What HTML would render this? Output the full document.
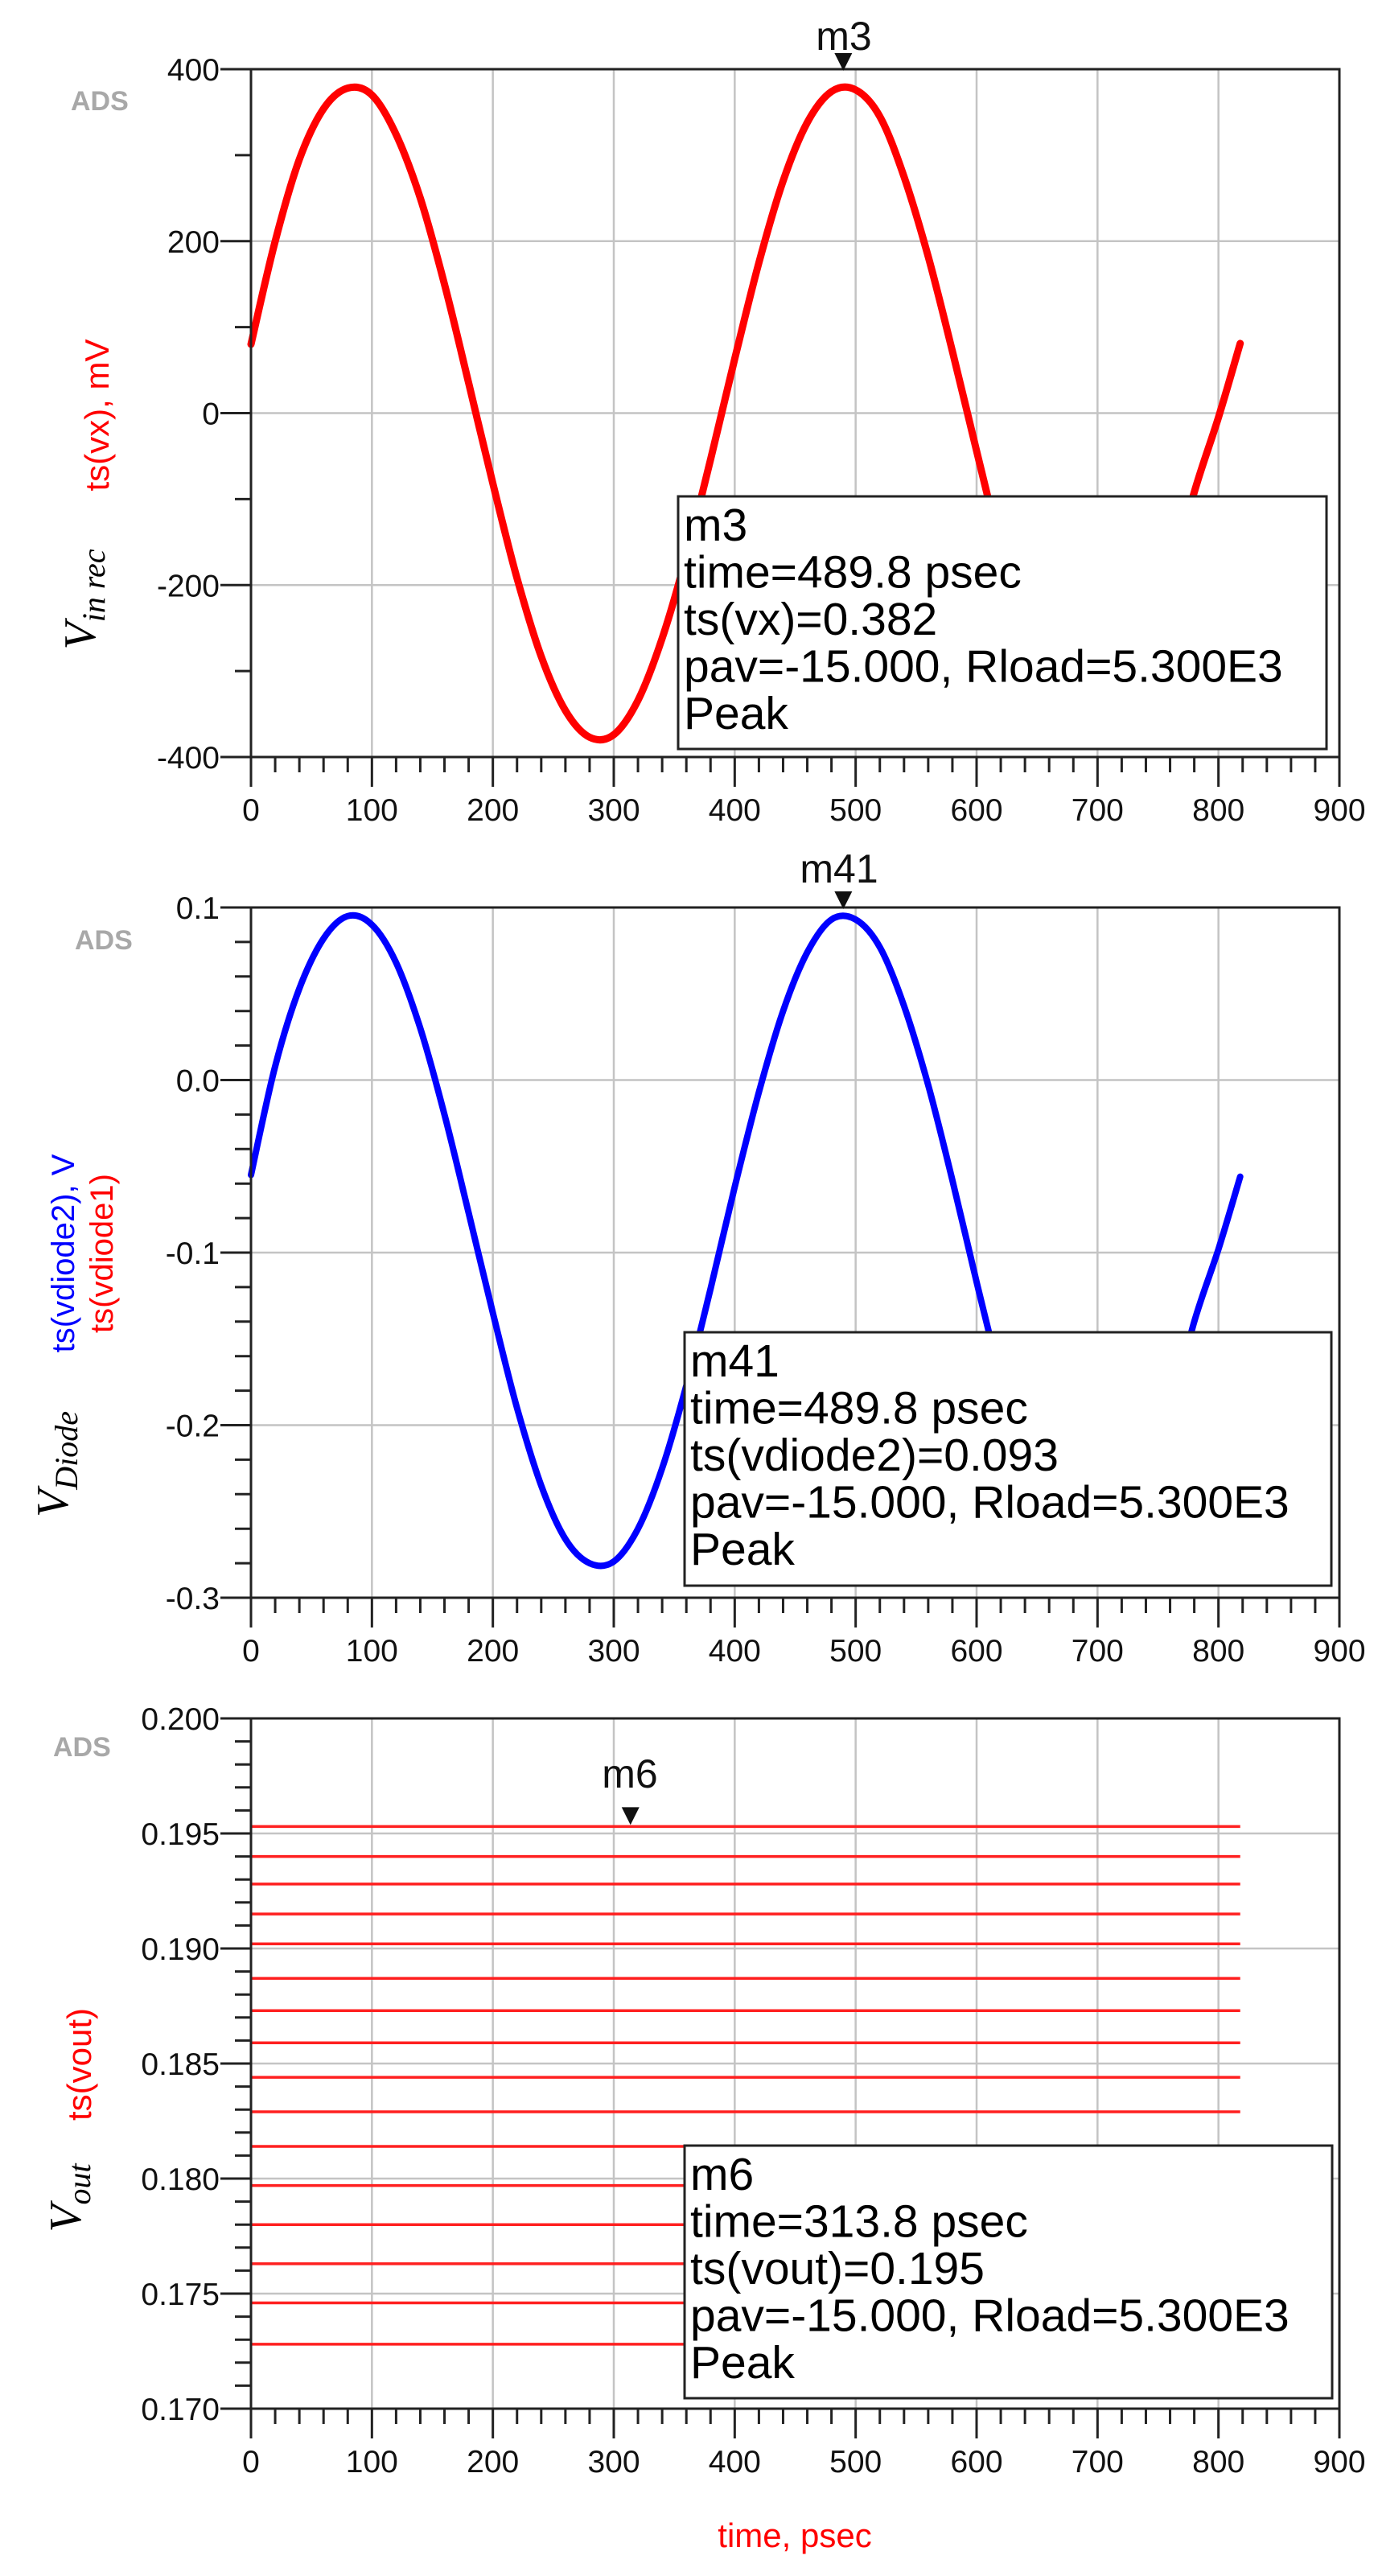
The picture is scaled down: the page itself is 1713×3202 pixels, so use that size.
<!DOCTYPE html>
<html><head><meta charset="utf-8"><style>
html,body{margin:0;padding:0;background:#fff;}
svg{display:block;font-family:"Liberation Sans",Arial,sans-serif;}
</style></head><body>
<svg id="chart" width="1713" height="3202" viewBox="0 0 1713 3202" xmlns="http://www.w3.org/2000/svg"></svg>
<script>
// ---- shared x data ----
const xTicks = [0,100,200,300,400,500,600,700,800,900];
const timeSamples = [0,20,40,60,80,100,120,140,160,180,200,220,240,260,280,300,320,340,360,380,400,420,440,460,480,500,520,540,560,580,600,620,640,660,680,700,720,740,760,780,800,818];
// ---- plot 1: ts(vx), mV ----
const vxValues = [80,200,295,354,378,370,324,250,150,35,-82,-192,-283,-346,-377,-374,-334,-262,-166,-54,63,175,270,338,374,376,345,275,182,72,-44,-157,-255,-328,-370,-378,-350,-288,-198,-92,-5,81];
const vxTicks = [400,200,0,-200,-400];
const vxTickLabels = ["400","200","0","-200","-400"];
// ---- plot 2: ts(vdiode2), V ----
const vdValues = [-0.055,0.008,0.053,0.082,0.095,0.090,0.068,0.030,-0.020,-0.077,-0.135,-0.190,-0.235,-0.266,-0.280,-0.279,-0.260,-0.225,-0.177,-0.121,-0.062,-0.007,0.040,0.074,0.093,0.093,0.077,0.043,-0.003,-0.058,-0.117,-0.173,-0.222,-0.258,-0.279,-0.282,-0.270,-0.239,-0.194,-0.140,-0.098,-0.056];
const vdTicks = [0.1,0.0,-0.1,-0.2,-0.3];
const vdTickLabels = ["0.1","0.0","-0.1","-0.2","-0.3"];
// ---- plot 3: ts(vout) swept traces ----
const voutLevels = [0.1953,0.1940,0.1928,0.1915,0.1902,0.1887,0.1873,0.1859,0.1844,0.1829,0.1814,0.1797,0.1780,0.1763,0.1746,0.1728];
const voutTEnd = 818;
const voutTicks = [0.200,0.195,0.190,0.185,0.180,0.175,0.170];
const voutTickLabels = ["0.200","0.195","0.190","0.185","0.180","0.175","0.170"];

const NS="http://www.w3.org/2000/svg";
const svg=document.getElementById('chart');
function mk(tag,attrs,parent){const e=document.createElementNS(NS,tag);for(const k in attrs)e.setAttribute(k,attrs[k]);(parent||svg).appendChild(e);return e;}

const X0=312,X1=1665;
function xs(t){return X0+(t-0)/(900-0)*(X1-X0);}

function drawFrame(g,top,bot,ymax,ymin,ticks,labels,minorStep,name){
  const ys=v=>top+(ymax-v)/(ymax-ymin)*(bot-top);
  xTicks.forEach(t=>{ if(t>0&&t<900){const l=mk('line',{x1:xs(t),x2:xs(t),y1:top,y2:bot,stroke:'#c4c4c4','stroke-width':2.5},g);
    
    }});
  ticks.forEach(v=>{ if(v<ymax&&v>ymin){const l=mk('line',{x1:X0,x2:X1,y1:ys(v),y2:ys(v),stroke:'#c4c4c4','stroke-width':2.5},g);
    
    }});
  for(let t=0;t<=900;t+=20){const major=t%100===0;
    const l=mk('line',{x1:xs(t),x2:xs(t),y1:bot,y2:bot+(major?37:19),stroke:'#222','stroke-width':3},g);
    
    }
  xTicks.forEach(t=>{const tx=mk('text',{x:xs(t),y:bot+79,'font-size':39,'text-anchor':'middle',fill:'#111'},g);tx.textContent=String(t);
    
    });
  const n=Math.round((ymax-ymin)/minorStep);
  for(let i=0;i<=n;i++){const v=ymax-i*minorStep;const major=ticks.some(k=>Math.abs(k-v)<minorStep/10);
    const l=mk('line',{x1:X0-(major?38:20),x2:X0,y1:ys(v),y2:ys(v),stroke:'#222','stroke-width':3},g);
    
    }
  ticks.forEach((v,i)=>{const tx=mk('text',{x:273,y:ys(v)+14,'font-size':39,'text-anchor':'end',fill:'#111'},g);tx.textContent=labels[i];
    
    });
  return ys;
}
function drawBox(g,top,bot){
  const r=mk('rect',{x:X0,y:top,width:X1-X0,height:bot-top,fill:'none',stroke:'#222','stroke-width':3},g);
  
  
}
function ads(g,x,y){const t=mk('text',{x:x,y:y,'font-size':34,fill:'#a8a8a8','font-weight':'bold'},g);t.textContent='ADS';
  
  }
function marker(g,x,top,label,lx,ly,name){
  const p=mk('path',{d:`M${x-11},${top-20} L${x+11},${top-20} L${x},${top+2} Z`,fill:'#111'},g);
  
  
  const t=mk('text',{x:lx,y:ly,'font-size':50,'text-anchor':'middle',fill:'#111'},g);t.textContent=label;
  
  
}
function legend(g,x,y,w,h,lines,name){
  const r=mk('rect',{x:x,y:y,width:w,height:h,fill:'#fff',stroke:'#222','stroke-width':3},g);
  
  
  lines.forEach((s,i)=>{const t=mk('text',{x:x+7,y:y+55+i*58.5,'font-size':57,fill:'#000'},g);t.textContent=s;
    
    });
}
function vlabel(g,cx,cy,text,color,size){
  const t=mk('text',{x:0,y:0,'font-size':size,fill:color,'text-anchor':'middle',transform:`translate(${cx},${cy}) rotate(-90)`},g);
  t.textContent=text;return t;
}
function vsym(g,cx,cy,sub,name){
  const t=mk('text',{x:0,y:0,'font-size':56,fill:'#000','text-anchor':'middle','font-family':'"Liberation Serif",serif','font-style':'italic',transform:`translate(${cx},${cy}) rotate(-90)`},g);
  
  
  const a=mk('tspan',{},t);a.textContent='V';
  const b=mk('tspan',{'font-size':40,dy:12},t);b.textContent=sub;
}
function curve(g,ys,vals,color,w,name){
  const P=timeSamples.map((t,i)=>[xs(t),ys(vals[i])]);
  let d='M'+P[0][0].toFixed(1)+','+P[0][1].toFixed(1);
  for(let i=0;i<P.length-1;i++){
    const p0=P[Math.max(0,i-1)],p1=P[i],p2=P[i+1],p3=P[Math.min(P.length-1,i+2)];
    const c1x=p1[0]+(p2[0]-p0[0])/6,c1y=p1[1]+(p2[1]-p0[1])/6;
    const c2x=p2[0]-(p3[0]-p1[0])/6,c2y=p2[1]-(p3[1]-p1[1])/6;
    d+=` C${c1x.toFixed(1)},${c1y.toFixed(1)} ${c2x.toFixed(1)},${c2y.toFixed(1)} ${p2[0].toFixed(1)},${p2[1].toFixed(1)}`;
  }
  const p=mk('path',{d:d,fill:'none',stroke:color,'stroke-width':w,'stroke-linejoin':'round','stroke-linecap':'round'},g);
  
  
}

// ===== Plot 1 =====
const g1=mk('g',{});


const T1=86,B1=941;
const ys1=drawFrame(g1,T1,B1,400,-400,vxTicks,vxTickLabels,100,'p1');
curve(g1,ys1,vxValues,'#ff0000',9,'vx-trace');
drawBox(g1,T1,B1);
ads(g1,88,137);
marker(g1,xs(489.8),T1,'m3',1049,62,'m3');
legend(g1,843,617,806,314,['m3','time=489.8 psec','ts(vx)=0.382','pav=-15.000, Rload=5.300E3','Peak'],'m3');
vsym(g1,118,745,'in rec','vin-rec-axis-symbol');
const l1=vlabel(g1,135,516,'ts(vx), mV','#ff0000',42);



// ===== Plot 2 =====
const g2=mk('g',{});


const T2=1128,B2=1986;
const ys2=drawFrame(g2,T2,B2,0.1,-0.3,vdTicks,vdTickLabels,0.02,'p2');
curve(g2,ys2,vdValues,'#0000ff',8,'vdiode2-trace');
drawBox(g2,T2,B2);
ads(g2,93,1180);
marker(g2,xs(489.8),T2,'m41',1043,1097,'m41');
legend(g2,851,1656,804,315,['m41','time=489.8 psec','ts(vdiode2)=0.093','pav=-15.000, Rload=5.300E3','Peak'],'m41');
vsym(g2,84,1820,'Diode','vdiode-axis-symbol');
const l2a=vlabel(g2,92,1558,'ts(vdiode2), V','#0000ff',40);


const l2b=vlabel(g2,140,1558,'ts(vdiode1)','#ff0000',40);



// ===== Plot 3 =====
const g3=mk('g',{});


const T3=2136,B3=2994;
const ys3=drawFrame(g3,T3,B3,0.200,0.170,voutTicks,voutTickLabels,0.001,'p3');
voutLevels.forEach(v=>{
  const l=mk('line',{x1:xs(0),x2:xs(voutTEnd),y1:ys3(v),y2:ys3(v),stroke:'#ff2020','stroke-width':3.5},g3);
  
  
});
drawBox(g3,T3,B3);
ads(g3,66,2183);
marker(g3,xs(313.8),ys3(0.1953)-4,'m6',783,2222,'m6');
legend(g3,851,2667,805,314,['m6','time=313.8 psec','ts(vout)=0.195','pav=-15.000, Rload=5.300E3','Peak'],'m6');
vsym(g3,100,2732,'out','vout-axis-symbol');
const l3=vlabel(g3,113,2566,'ts(vout)','#ff0000',42);



const xt=mk('text',{x:988,y:3166,'font-size':42,fill:'#ff0000','text-anchor':'middle'});
xt.textContent='time, psec';


</script>
</body></html>
